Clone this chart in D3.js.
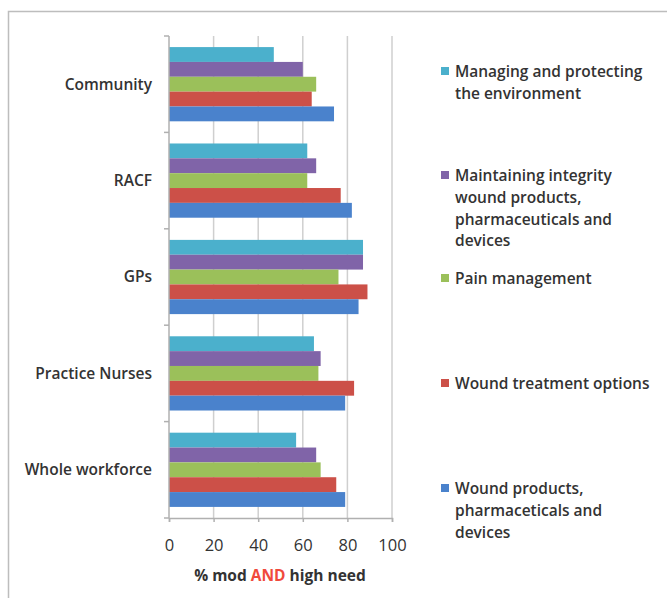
<!DOCTYPE html>
<html>
<head>
<meta charset="utf-8">
<script src="https://cdn.jsdelivr.net/npm/d3@7"></script>
<style>
  html, body { margin: 0; padding: 0; background: #fff; }
  svg { display: block; }
  text { font-family: "Open Sans", "Noto Sans", sans-serif; fill: #333; }
</style>
</head>
<body>
<svg id="chart" width="667" height="602"></svg>
<script>
// Workforce groups (top to bottom)
const categories = ["Community", "RACF", "GPs", "Practice Nurses", "Whole workforce"];

// Series, listed in the order the bars stack inside each group (top to bottom)
const seriesNames = [
  "Managing and protecting the environment",
  "Maintaining integrity wound products, pharmaceuticals and devices",
  "Pain management",
  "Wound treatment options",
  "Wound products, pharmaceticals and devices"
];
const managingEnvironment = [47, 62, 87, 65, 57];
const maintainingIntegrity = [60, 66, 87, 68, 66];
const painManagement = [66, 62, 76, 67, 68];
const woundTreatment = [64, 77, 89, 83, 75];
const woundProducts = [74, 82, 85, 79, 79];
const seriesValues = [managingEnvironment, maintainingIntegrity, painManagement, woundTreatment, woundProducts];
const seriesColors = ["#4bb0cc", "#8064a8", "#9bc05a", "#cc5048", "#4a82cc"];

// Legend lines as wrapped in the legend box
const legendLines = [
  ["Managing and protecting", "the environment"],
  ["Maintaining integrity", "wound products,", "pharmaceuticals and", "devices"],
  ["Pain management"],
  ["Wound treatment options"],
  ["Wound products,", "pharmaceticals and", "devices"]
];

const xTicks = [0, 20, 40, 60, 80, 100];

const svg = d3.select("#chart");

// outer frame (top and left edges visible)
svg.append("path")
  .attr("d", "M8.5,598 L8.5,11.5 L667,11.5")
  .attr("fill", "none").attr("stroke", "#bdbdbd").attr("stroke-width", 1.5);

const plot = { left: 169, right: 392, top: 36, bottom: 518 };

const x = d3.scaleLinear().domain([0, 100]).range([plot.left, plot.right]);
const y = d3.scaleBand().domain(categories).range([plot.top, plot.bottom]).paddingInner(0.23).paddingOuter(0.115);
const yInner = d3.scaleBand().domain(d3.range(seriesNames.length)).range([0, y.bandwidth()]);
const yOuter = d3.scaleBand().domain(categories).range([plot.top, plot.bottom]);

// vertical gridlines
svg.append("g").selectAll("line").data(xTicks.slice(1)).join("line")
  .attr("x1", d => x(d)).attr("x2", d => x(d))
  .attr("y1", plot.top).attr("y2", plot.bottom)
  .attr("stroke", "#cfcfcf").attr("stroke-width", 1.5);

// bars
const groups = svg.append("g").selectAll("g").data(categories).join("g")
  .attr("transform", c => `translate(0,${y(c)})`);
groups.selectAll("rect")
  .data((c, ci) => seriesValues.map((vals, si) => ({ si, v: vals[ci] })))
  .join("rect")
  .attr("x", x(0))
  .attr("y", d => yInner(d.si))
  .attr("width", d => x(d.v) - x(0))
  .attr("height", yInner.bandwidth())
  .attr("fill", d => seriesColors[d.si]);

// x axis
const xAxis = svg.append("g")
  .attr("transform", `translate(0,${plot.bottom})`)
  .call(d3.axisBottom(x).tickValues(xTicks).tickSize(4).tickPadding(17));
xAxis.select(".domain").attr("stroke", "#b0b0b0").attr("stroke-width", 1.5);
xAxis.selectAll(".tick line").attr("stroke", "#b0b0b0").attr("stroke-width", 1.5);
xAxis.selectAll(".tick text").attr("font-size", 16.5).attr("fill", "#333")
  .style("font-family", "'Open Sans', sans-serif");

// y axis line with ticks at group boundaries
svg.append("line")
  .attr("x1", plot.left).attr("x2", plot.left)
  .attr("y1", plot.top).attr("y2", plot.bottom)
  .attr("stroke", "#b0b0b0").attr("stroke-width", 1.5);
const bounds = categories.map(c => yOuter(c)).concat([plot.bottom]);
svg.append("g").selectAll("line").data(bounds).join("line")
  .attr("x1", plot.left - 5).attr("x2", plot.left)
  .attr("y1", d => d).attr("y2", d => d)
  .attr("stroke", "#b0b0b0").attr("stroke-width", 1.5);

// category labels
svg.append("g").selectAll("text").data(categories).join("text")
  .attr("x", 152)
  .attr("y", c => y(c) + y.bandwidth() / 2)
  .attr("dy", "0.35em")
  .attr("text-anchor", "end")
  .attr("font-size", 15.5)
  .attr("font-weight", 600)
  .text(c => c);

// axis title
const title = svg.append("text")
  .attr("x", 280).attr("y", 581)
  .attr("text-anchor", "middle")
  .attr("font-size", 15.5).attr("font-weight", "bold");
title.append("tspan").text("% mod ");
title.append("tspan").style("fill", "#f04a3c").text(" AND");
title.append("tspan").text(" high need");

// legend
const legendFirstBaseline = [77, 181, 284, 389, 494];
const lineH = 21.8;
const legend = svg.append("g");
legendLines.forEach((lines, i) => {
  const by = legendFirstBaseline[i];
  legend.append("rect")
    .attr("x", 441).attr("y", by - 10).attr("width", 8).attr("height", 8)
    .attr("fill", seriesColors[i]);
  const t = legend.append("text").attr("x", 455).attr("y", by)
    .attr("font-size", 15.5).attr("font-weight", 600);
  lines.forEach((ln, k) => {
    t.append("tspan").attr("x", 455).attr("y", by + k * lineH).text(ln);
  });
});
</script>
</body>
</html>
